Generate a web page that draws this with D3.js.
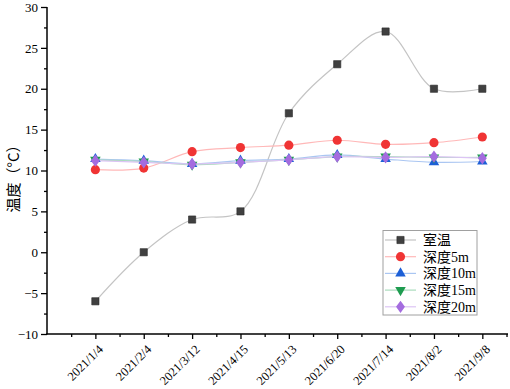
<!DOCTYPE html>
<html>
<head>
<meta charset="utf-8">
<script src="https://cdn.jsdelivr.net/npm/d3@7"></script>
<style>
  body { margin: 0; background: #fff; }
  svg { display: block; }
  .tick text { font-family: "Liberation Serif", "DejaVu Serif", serif; fill: #000; }
</style>
</head>
<body>
<div id="graphicContainer"></div>
<script>
var dates = ["2021/1/4", "2021/2/4", "2021/3/12", "2021/4/15", "2021/5/13", "2021/6/20", "2021/7/14", "2021/8/2", "2021/9/8"]
var roomTemp = [-6, 0, 4, 5, 17, 23, 27, 20, 20]
var depth5 = [10.1, 10.3, 12.3, 12.8, 13.1, 13.7, 13.2, 13.4, 14.1]
var depth10 = [11.4, 11.2, 10.8, 11.2, 11.4, 11.9, 11.4, 11.0, 11.1]
var depth15 = [11.3, 11.1, 10.7, 11.0, 11.3, 11.7, 11.7, 11.6, 11.6]
var depth20 = [11.2, 11.0, 10.8, 11.0, 11.3, 11.7, 11.6, 11.7, 11.5]
var seriesNames = ["室温", "深度5m", "深度10m", "深度15m", "深度20m"]
var yTicks = [-10, -5, 0, 5, 10, 15, 20, 25, 30]

var series = [
    {name: seriesNames[0], values: roomTemp, fill: "#404040", line: "#c4c4c4", shape: "square"},
    {name: seriesNames[1], values: depth5, fill: "#f03434", line: "#ffb8b8", shape: "circle"},
    {name: seriesNames[2], values: depth10, fill: "#1c5fd6", line: "#aac6f2", shape: "triangleUp"},
    {name: seriesNames[3], values: depth15, fill: "#1e9c50", line: "#a9dcbc", shape: "triangleDown"},
    {name: seriesNames[4], values: depth20, fill: "#a46cdf", line: "#dcc4f4", shape: "diamond"}
]

var width = 510, height = 389
var plotLeft = 47, plotTop = 7, plotBottom = 334, plotRight = 508

var svg = d3.select("#graphicContainer").append("svg")
    .attr("width", width)
    .attr("height", height)

var x = d3.scaleLinear().domain([-1, 9]).range([plotLeft, plotLeft + 48.37 * 10])
var y = d3.scaleLinear().domain([-10, 30]).range([plotBottom, plotTop])

// clip for curves inside the plot
svg.append("clipPath").attr("id", "plotClip")
    .append("rect").attr("x", plotLeft).attr("y", 0).attr("width", plotRight - plotLeft).attr("height", plotBottom)

// y axis
var yAxis = svg.append("g").attr("transform", "translate(" + plotLeft + ",0)")
yAxis.call(d3.axisLeft(y).tickValues(yTicks).tickSize(6).tickPadding(3).tickFormat(d => d < 0 ? "\u2212" + Math.abs(d) : d))
yAxis.selectAll(".tick text").attr("font-size", 13)
yAxis.append("g").call(d3.axisLeft(y).tickValues(d3.range(-7.5, 30, 5)).tickSize(3).tickFormat(""))
yAxis.selectAll(".domain").remove()
yAxis.selectAll("line").attr("stroke", "#000").attr("stroke-width", 1.3)
svg.append("line").attr("x1", plotLeft).attr("x2", plotLeft).attr("y1", plotTop).attr("y2", plotBottom + 0.5)
    .attr("stroke", "#000").attr("stroke-width", 1.5)

// x axis
var xAxis = svg.append("g").attr("transform", "translate(0," + plotBottom + ")")
xAxis.call(d3.axisBottom(x).tickValues(d3.range(0, 9)).tickSize(5).tickFormat(i => dates[i]))
xAxis.append("g").call(d3.axisBottom(x).tickValues(d3.range(-0.5, 9, 1)).tickSize(3).tickFormat(""))
xAxis.selectAll(".domain").remove()
xAxis.selectAll("line").attr("stroke", "#000").attr("stroke-width", 1.3)
xAxis.selectAll(".tick text")
    .attr("font-size", 12.5)
    .attr("text-anchor", "end")
    .attr("x", 0)
    .attr("y", 0)
    .attr("dy", 0)
    .attr("transform", "translate(8,16) rotate(-45)")
svg.append("line").attr("x1", plotLeft - 0.75).attr("x2", plotRight).attr("y1", plotBottom).attr("y2", plotBottom)
    .attr("stroke", "#000").attr("stroke-width", 1.5)

// y label
svg.append("text")
    .attr("transform", "translate(19,175) rotate(-90)")
    .attr("text-anchor", "middle")
    .attr("font-family", "'Noto Sans CJK SC', sans-serif")
    .attr("font-size", 15)
    .text("温度（°C）")

var symbolMap = {
    square: d3.symbolSquare,
    circle: d3.symbolCircle,
    triangleUp: d3.symbolTriangle,
    triangleDown: d3.symbolTriangle,
    diamond: d3.symbolDiamond
}
var sizeMap = {square: 52, circle: 66, triangleUp: 48, triangleDown: 48, diamond: 44}

function marker(g, s, cx, cy) {
    var rot = s.shape === "triangleDown" ? " rotate(180)" : ""
    var scaleStr = s.shape === "diamond" ? " scale(1.25,1)" : ""
    g.append("path")
        .attr("d", d3.symbol().type(symbolMap[s.shape]).size(sizeMap[s.shape])())
        .attr("transform", "translate(" + cx + "," + cy + ")" + rot + scaleStr)
        .attr("fill", s.fill)
        .attr("stroke", s.shape === "square" ? "#2a2a2a" : "none")
        .attr("stroke-width", 0.6)
}

var line = d3.line()
    .x((d, i) => x(i))
    .y(d => y(d))
    .curve(d3.curveCatmullRom.alpha(0.5))

var plot = svg.append("g").attr("clip-path", "url(#plotClip)")

series.forEach(function(s) {
    plot.append("path")
        .datum(s.values)
        .attr("d", line)
        .attr("fill", "none")
        .attr("stroke", s.line)
        .attr("stroke-width", 1.2)
})

series.forEach(function(s) {
    var g = svg.append("g")
    s.values.forEach(function(v, i) { marker(g, s, x(i), y(v)) })
})

// legend
var legend = svg.append("g")
legend.append("rect")
    .attr("x", 383).attr("y", 230.5).attr("width", 94).attr("height", 84.5)
    .attr("fill", "#fff").attr("stroke", "#a0a0a0").attr("stroke-width", 1)

series.forEach(function(s, i) {
    var ly = 240 + i * 16.7
    legend.append("line")
        .attr("x1", 385).attr("x2", 416).attr("y1", ly).attr("y2", ly)
        .attr("stroke", s.line).attr("stroke-width", 1.2)
    marker(legend, s, 400.5, ly)
    legend.append("text")
        .attr("x", 423).attr("y", ly + 5)
        .attr("font-family", "'Liberation Serif', 'Noto Sans CJK SC', serif")
        .attr("font-size", 14)
        .text(s.name)
})
</script>
</body>
</html>
